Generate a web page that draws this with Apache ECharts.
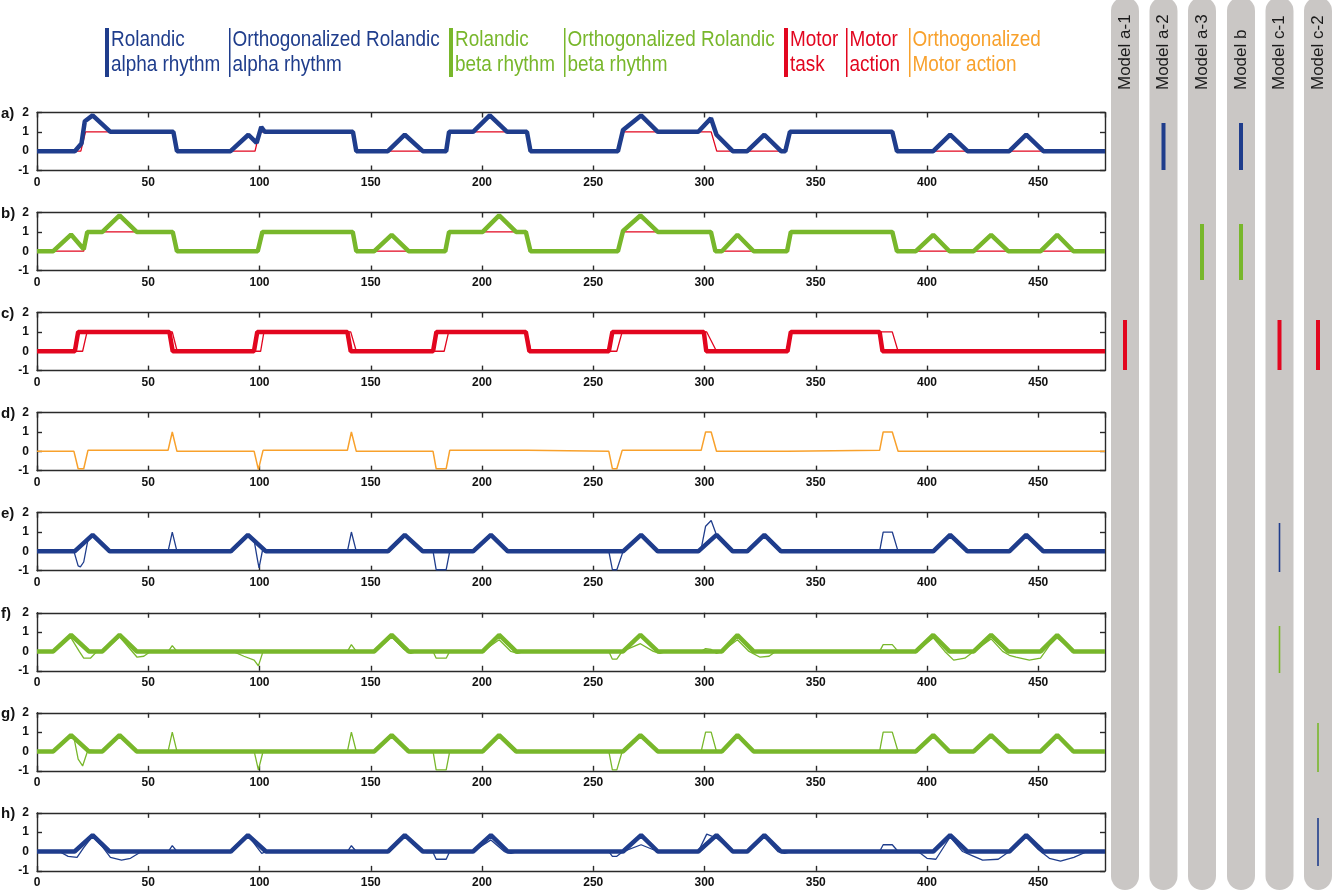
<!DOCTYPE html>
<html><head><meta charset="utf-8">
<script src="https://cdn.jsdelivr.net/npm/echarts@6/dist/echarts.min.js"></script>
<style>html,body{margin:0;padding:0;background:#fff}#c{width:1333px;height:894px}</style>
</head><body><div id="c"></div>
<script>
// ---------- DATA (time, value) ----------
const xTickValues = [0,50,100,150,200,250,300,350,400,450];
const yTickValues = [-1,0,1,2];
const panelLabels = ['a)','b)','c)','d)','e)','f)','g)','h)'];
const modelNames = ['Model a-1','Model a-2','Model a-3','Model b','Model c-1','Model c-2'];
const legendLines = [
  ['Rolandic','alpha rhythm'],
  ['Orthogonalized Rolandic','alpha rhythm'],
  ['Rolandic','beta rhythm'],
  ['Orthogonalized Rolandic','beta rhythm'],
  ['Motor','task'],
  ['Motor','action'],
  ['Orthogonalized','Motor action']
];

const alphaRhythm = [[0,0],[17,0],[20,0.4],[21.5,1.55],[25,1.85],[33,1],[61.3,1],[62.9,0],[87,0],[95,0.85],[98.7,0.43],[100.8,1.25],[102.4,1],[142,1],[143.5,0],[157.7,0],[165.3,0.85],[173.4,0],[183.9,0],[185.2,1],[196,1],[203.5,1.85],[211.3,1],[220.2,1],[221.8,0],[261.1,0],[263.4,1.1],[271.5,1.85],[279,1],[297.2,1],[302.9,1.7],[305.4,0.85],[312.7,0],[319.2,0],[326.9,0.85],[334.4,0],[336.3,0],[338.4,1],[384.4,1],[386.5,0],[402.8,0],[410.4,0.85],[418.2,0],[437,0],[444.6,0.85],[452.3,0],[480,0]];
const alphaBlock = [[0,0],[19.7,0],[21.8,1],[61.3,1],[62.9,0],[98,0],[100,1],[142,1],[143.5,0],[183.9,0],[185.2,1],[220.2,1],[221.8,0],[261.1,0],[263.4,1],[303,1],[305.5,0],[336.3,0],[338.4,1],[384.4,1],[386.5,0],[480,0]];

const betaRhythm = [[0,0],[7.3,0],[15.3,0.86],[21,0.1],[22.6,1],[29.4,1],[37.1,1.85],[44.8,1],[61,1],[62.9,0],[99.2,0],[101.3,1],[141.9,1],[143.5,0],[151.6,0],[159.4,0.85],[167,0],[183.5,0],[185.2,1],[200.3,1],[207.7,1.85],[215.3,1],[219.7,1],[221.8,0],[261.1,0],[263.4,1.05],[271.2,1.85],[279,1],[302.9,1],[304.9,0],[307.8,0],[314.8,0.85],[322.1,0],[337.1,0],[338.8,1],[384.4,1],[386.5,0],[395,0],[402.8,0.85],[410.1,0],[421,0],[428.8,0.85],[436.5,0],[451.1,0],[458.5,0.85],[465.8,0],[480,0]];
const betaBlock = [[0,0],[21,0],[22.6,1],[61,1],[62.9,0],[99.2,0],[101.3,1],[141.9,1],[143.5,0],[183.5,0],[185.2,1],[219.7,1],[221.8,0],[261.1,0],[263.4,1],[302.9,1],[304.9,0],[337.1,0],[338.8,1],[384.4,1],[386.5,0],[480,0]];

const motorTask = [[0,0],[17,0],[18.5,1],[59.5,1],[61,0],[97.5,0],[99,1],[139.5,1],[141,0],[178,0],[179.5,1],[219.7,1],[221.3,0],[257,0],[258.6,1],[299.7,1],[300.8,0],[337.3,0],[338.8,1],[378.7,1],[380,0],[480,0]];
const motorAction = [[0,0],[20.5,0],[22.5,1],[60.8,1],[63,0],[100.5,0],[102,1],[141,1],[143.5,0],[183,0],[185,1],[220,1],[222,0],[260.6,0],[263,1],[301,1],[305.4,0],[337.5,0],[339,1],[384.4,1],[387,0],[480,0]];

const orthMotorAction = [[0,0],[16.6,0],[18.5,-0.9],[21,-0.9],[22.9,0.05],[58.9,0.05],[60.8,1],[62.9,0],[97.6,0],[99.5,-0.95],[101.6,0.05],[139.5,0.05],[141.3,1],[143.5,0],[178,0],[179.4,-0.9],[183.9,-0.9],[185.5,0.05],[220.5,0.05],[221,0],[257,0],[258.6,-0.9],[260.6,-0.9],[263,0.05],[298.5,0.05],[300.5,1],[303,1],[305.4,0],[337.3,0],[338,0.05],[378.7,0.05],[380.3,1],[384.4,1],[387,0],[480,0]];

const alphaBursts = [[0,0],[16.9,0],[25,0.85],[32.7,0],[87.1,0],[94.8,0.85],[102.9,0],[157.7,0],[165.3,0.85],[173.4,0],[196,0],[204,0.85],[211.6,0],[263.4,0],[271.5,0.85],[279,0],[297.2,0],[305.4,0.85],[312.7,0],[319.2,0],[326.9,0.85],[334.4,0],[402.8,0],[410.4,0.85],[418.2,0],[437,0],[444.6,0.85],[452.3,0],[480,0]];
const orthAlphaE = [[0,0],[16.6,0],[18.5,-0.75],[19.5,-0.8],[21,-0.55],[22.9,0.6],[25,0.85],[32.7,0],[58.9,0],[60.8,1],[62.9,0],[87.1,0],[94.8,0.85],[97.6,0.55],[99.2,-0.5],[99.8,-0.85],[101.6,0.2],[102.9,0],[139.5,0],[141.3,1],[143.5,0],[157.7,0],[165.3,0.85],[173.4,0],[178,0],[179.4,-0.95],[183.9,-0.95],[185.5,0],[196,0],[204,0.85],[211.6,0],[257,0],[258.6,-0.95],[260.6,-0.95],[263.4,0],[271.5,0.85],[279,0],[297.2,0],[298.5,0.13],[300.5,1.3],[303,1.6],[305.4,0.85],[312.7,0],[319.2,0],[326.9,0.85],[334.4,0],[378.7,0],[380.3,1],[384.4,1],[387,0],[402.8,0],[410.4,0.85],[418.2,0],[437,0],[444.6,0.85],[452.3,0],[480,0]];
const orthAlphaH = [[0,0],[10,0],[14,-0.25],[18,-0.3],[21,0.2],[25,0.8],[29,0.3],[33,-0.3],[38,-0.45],[42,-0.35],[47,0],[59,0],[60.8,0.3],[62.9,0],[87.1,0],[94.8,0.85],[99,0.2],[101,-0.1],[103,0],[139.5,0],[141.3,0.3],[143.5,0],[157.7,0],[165.3,0.8],[172,0.1],[175,-0.05],[178,-0.05],[179.4,-0.4],[183.9,-0.4],[185.5,0],[196,0],[204,0.6],[210,0],[213,-0.1],[216,0],[257,0],[258.6,-0.25],[260.6,-0.25],[263.4,0],[271.5,0.35],[279,0],[297.2,0],[301,0.9],[305.4,0.7],[312.7,0],[319.2,0],[326.9,0.75],[333,0],[336,-0.1],[339,0],[378.7,0],[380.3,0.35],[384.4,0.35],[387,0],[396,0],[400,-0.35],[404,-0.4],[410.4,0.75],[416,0],[420,-0.2],[425,-0.45],[432,-0.4],[437,0],[444.6,0.75],[450,0.1],[455,-0.35],[460,-0.5],[466,-0.3],[472,0],[480,0]];

const betaBursts = [[0,0],[7.3,0],[15.3,0.85],[23.3,0],[29.4,0],[37.1,0.85],[44.8,0],[151.6,0],[159.4,0.85],[167,0],[200.3,0],[207.7,0.85],[215.3,0],[263.4,0],[271.2,0.85],[279,0],[307.8,0],[314.8,0.85],[322.1,0],[395,0],[402.8,0.85],[410.1,0],[421,0],[428.8,0.85],[436.5,0],[451.1,0],[458.5,0.85],[465.8,0],[480,0]];
const orthBetaF = [[0,0],[7.3,0],[15,0.75],[19,0],[21,-0.35],[24,-0.35],[27,0],[29.4,0],[37.1,0.75],[42,0.1],[45,-0.3],[48,-0.25],[51,0],[59,0],[60.8,0.3],[62.9,0],[88,0],[93,-0.25],[97.6,-0.45],[99.5,-0.75],[101.6,0],[139.5,0],[141.3,0.35],[143.5,0],[151.6,0],[159.4,0.75],[165,0.1],[168,-0.1],[171,0],[178,0],[179.4,-0.35],[183.9,-0.35],[185.5,0],[200.3,0],[207.7,0.6],[213,0],[216,-0.1],[219,0],[257,0],[258.6,-0.4],[260.6,-0.4],[263,0],[271.2,0.4],[277,0],[280,-0.1],[283,0],[298.5,0],[300.5,0.15],[303,0.1],[305.4,-0.1],[307.8,0],[314.8,0.6],[320,0],[325,-0.3],[329,-0.25],[332,0],[378.7,0],[380.3,0.35],[384.4,0.35],[387,0],[395,0],[402.8,0.7],[408,0],[412,-0.45],[417,-0.35],[421,0],[428.8,0.65],[434,0],[437,-0.2],[440,-0.3],[446,-0.45],[451,-0.35],[455,0.3],[458.5,0.7],[465.8,0],[480,0]];
const orthBetaG = [[0,0],[7.3,0],[15.3,0.85],[16.6,0.71],[18.5,-0.4],[20.5,-0.75],[21,-0.66],[22.9,0.08],[23.3,0],[29.4,0],[37.1,0.85],[44.8,0],[58.9,0],[60.8,1],[62.9,0],[97.6,0],[99.5,-0.95],[101.6,0],[139.5,0],[141.3,1],[143.5,0],[151.6,0],[159.4,0.85],[167,0],[178,0],[179.4,-0.95],[183.9,-0.95],[185.5,0],[200.3,0],[207.7,0.85],[215.3,0],[257,0],[258.6,-0.95],[260.6,-0.95],[263,0],[263.4,0],[271.2,0.85],[279,0],[298.5,0],[300.5,1],[303,1],[305.4,0],[307.8,0],[314.8,0.85],[322.1,0],[378.7,0],[380.3,1],[384.4,1],[387,0],[395,0],[402.8,0.85],[410.1,0],[421,0],[428.8,0.85],[436.5,0],[451.1,0],[458.5,0.85],[465.8,0],[480,0]];

// ---------- STYLE ----------
const BLUE='#1f3d8c', GREEN='#78b72b', RED='#e2061f', ORANGE='#f8a12c';
const THICK=4.5, THIN=1.3;
const FONT='"Liberation Sans", Arial, sans-serif';

const panels = [
  [{d:alphaBlock,c:RED,w:THIN,z:2},{d:alphaRhythm,c:BLUE,w:THICK,z:3}],
  [{d:betaBlock,c:RED,w:THIN,z:2},{d:betaRhythm,c:GREEN,w:THICK,z:3}],
  [{d:motorTask,c:RED,w:THICK,z:2},{d:motorAction,c:RED,w:THIN,z:3}],
  [{d:orthMotorAction,c:ORANGE,w:1.5,z:2}],
  [{d:alphaBursts,c:BLUE,w:THICK,z:2},{d:orthAlphaE,c:BLUE,w:THIN,z:3}],
  [{d:betaBursts,c:GREEN,w:THICK,z:2},{d:orthBetaF,c:GREEN,w:THIN,z:3}],
  [{d:betaBursts,c:GREEN,w:THICK,z:2},{d:orthBetaG,c:GREEN,w:THIN,z:3}],
  [{d:alphaBursts,c:BLUE,w:THICK,z:2},{d:orthAlphaH,c:BLUE,w:THIN,z:3}]
];

const grids=[], xAxes=[], yAxes=[], series=[], graphic=[];
const axLine={onZero:false,lineStyle:{color:'#2a2a2a',width:1.4}};
const axTick={inside:true,length:5,lineStyle:{color:'#2a2a2a',width:1.4}};
const xInt = xTickValues[1]-xTickValues[0], yInt = yTickValues[1]-yTickValues[0];
panels.forEach((lines,i)=>{
  const top = 112.5 + 100.05*i;
  grids.push({left:37, top:top, width:1068, height:58});
  const xa = {type:'value', gridIndex:i, min:xTickValues[0], max:480, interval:xInt,
    axisLine:axLine, axisTick:axTick, splitLine:{show:false}};
  xAxes.push(Object.assign({}, xa, {position:'bottom',
    axisLabel:{showMaxLabel:false,color:'#111',fontSize:12,fontWeight:'bold',margin:6,fontFamily:FONT}}));
  xAxes.push(Object.assign({}, xa, {position:'top', axisLabel:{show:false}}));
  const ya = {type:'value', gridIndex:i, min:yTickValues[0], max:yTickValues[yTickValues.length-1], interval:yInt,
    axisLine:axLine, axisTick:axTick, splitLine:{show:false}};
  yAxes.push(Object.assign({}, ya, {position:'left',
    axisLabel:{color:'#111',fontSize:12,fontWeight:'bold',margin:8,fontFamily:FONT}}));
  yAxes.push(Object.assign({}, ya, {position:'right', axisLabel:{show:false}}));
  lines.forEach(l=>series.push({type:'line', xAxisIndex:2*i, yAxisIndex:2*i, data:l.d,
    showSymbol:false, symbol:'none', z:l.z, silent:true, animation:false,
    lineStyle:{color:l.c,width:l.w}}));
  graphic.push({type:'text', x:1, y:top+1, style:{text:panelLabels[i], font:'bold 15px '+FONT, fill:'#111', textVerticalAlign:'middle'}});
});

// legend
const legendColors=[BLUE,BLUE,GREEN,GREEN,RED,RED,ORANGE];
const legendThick=[true,false,true,false,true,false,false];
const legendX=[105,229,449,564,784,846,909];
legendLines.forEach((t,i)=>{
  const w = legendThick[i]?4:1.5;
  graphic.push({type:'rect', shape:{x:legendX[i], y:28, width:w, height:49}, style:{fill:legendColors[i]}});
  graphic.push({type:'text', x:legendX[i]+w+2, y:27, scaleX:0.86,
    style:{text:t.join('\n'), font:'22px '+FONT, fill:legendColors[i], lineHeight:25, textVerticalAlign:'top'}});
});

// model columns
const colCenters=[1125,1163.5,1202,1241,1279.5,1318];
colCenters.forEach((cx,i)=>{
  graphic.push({type:'rect', z:-1, shape:{x:cx-14, y:-3, width:28, height:893, r:14}, style:{fill:'#cac7c5'}});
  graphic.push({type:'text', x:cx, y:90, rotation:Math.PI/2,
    style:{text:modelNames[i], font:'17px '+FONT, fill:'#1a1a1a', textAlign:'left', textVerticalAlign:'middle'}});
});
const rowSpan = {a:[123,170], b:[224,280], c:[320,370], e:[523,572], f:[626,673], g:[723,772], h:[818,866]};
const modelMarks = [
  [0,'c',RED,true],[1,'a',BLUE,true],[2,'b',GREEN,true],[3,'a',BLUE,true],[3,'b',GREEN,true],
  [4,'c',RED,true],[4,'e',BLUE,false],[4,'f',GREEN,false],
  [5,'c',RED,true],[5,'g',GREEN,false],[5,'h',BLUE,false]
];
modelMarks.forEach(m=>{
  const w = m[3]?4:1.6; const r=rowSpan[m[1]];
  graphic.push({type:'rect', shape:{x:colCenters[m[0]]-w/2, y:r[0], width:w, height:r[1]-r[0]}, style:{fill:m[2]}});
});

const chart = echarts.init(document.getElementById('c'), null, {renderer:'canvas'});
chart.setOption({animation:false, backgroundColor:'#ffffff', grid:grids, xAxis:xAxes, yAxis:yAxes, series:series, graphic:graphic});
</script></body></html>
